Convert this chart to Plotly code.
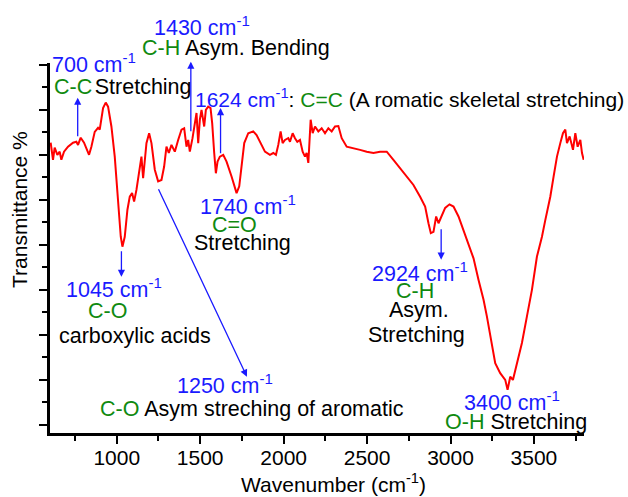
import plotly.graph_objects as go

# FTIR spectrum: wavenumber (cm^-1) and transmittance (%)
wavenumber = [
    604, 618, 628, 644, 658, 668, 684, 708, 738, 758, 768, 784, 804, 834, 848, 868,
    888, 898, 918, 934, 948, 968, 988, 1008, 1024, 1034, 1048, 1064, 1078, 1092,
    1104, 1118, 1134, 1148, 1158, 1168, 1178, 1194, 1208, 1228, 1248, 1268, 1284,
    1298, 1312, 1328, 1348, 1368, 1388, 1404, 1418, 1428, 1438, 1454, 1468, 1478,
    1488, 1498, 1508, 1524, 1534, 1548, 1562, 1572, 1584, 1594, 1604, 1618, 1638,
    1658, 1688, 1718, 1734, 1748, 1764, 1788, 1818, 1838, 1858, 1888, 1918, 1938,
    1954, 1968, 1982, 1994, 2008, 2028, 2038, 2054, 2068, 2082, 2098, 2114, 2128,
    2138, 2148, 2154, 2162, 2174, 2188, 2208, 2228, 2248, 2268, 2288, 2308, 2328,
    2348, 2378, 2418, 2458, 2498, 2538, 2578, 2618, 2658, 2698, 2738, 2778, 2818,
    2848, 2868, 2882, 2898, 2914, 2928, 2942, 2968, 2994, 3018, 3048, 3078, 3108,
    3138, 3168, 3198, 3218, 3238, 3268, 3298, 3328, 3342, 3358, 3374, 3398, 3428,
    3458, 3488, 3518, 3548, 3568, 3598, 3618, 3638, 3658, 3674, 3688, 3698, 3714,
    3734, 3748, 3762, 3778, 3788, 3798,
]
transmittance = [
    72.7, 68.9, 71.6, 70.0, 70.7, 68.9, 70.7, 71.8, 72.7, 72.9, 72.2, 73.8, 72.7, 70.0, 71.8, 75.1,
    76.0, 75.6, 80.4, 81.6, 80.7, 76.3, 69.6, 60.7, 51.8, 49.6, 51.8, 57.8, 60.7, 61.5,
    59.6, 62.2, 65.9, 69.6, 64.8, 69.6, 72.6, 74.8, 72.6, 66.7, 64.1, 64.4, 67.4,
    71.8, 70.4, 72.2, 70.7, 73.3, 75.6, 75.9, 71.8, 73.3, 70.7, 73.7, 77.0, 79.3,
    72.6, 77.8, 80.0, 76.3, 80.0, 80.7, 80.4, 77.0, 70.4, 65.9, 68.5, 69.6, 70.0,
    68.5, 65.2, 61.5, 63.0, 68.2, 72.6, 74.8, 75.2, 74.4, 72.9, 70.7, 70.0, 70.4,
    70.0, 72.2, 75.2, 72.6, 73.3, 73.7, 72.9, 74.8, 73.7, 72.9, 73.3, 70.7, 69.6,
    70.4, 68.2, 73.3, 77.8, 74.8, 76.3, 75.2, 75.9, 74.8, 75.9, 75.2, 76.3, 76.4,
    73.7, 71.8, 71.5, 71.1, 70.7, 70.4, 70.7, 70.7, 68.9, 67.0, 65.2, 63.3, 60.7,
    58.5, 54.8, 52.6, 52.9, 56.3, 54.8, 55.9, 58.2, 59.0, 58.5, 56.3, 53.3, 50.4,
    47.0, 42.2, 37.8, 34.1, 29.6, 23.7, 21.5, 20.0, 17.8, 20.7, 20.0, 23.7, 28.2,
    34.1, 40.0, 47.4, 51.8, 55.5, 60.7, 65.2, 69.6, 72.6, 74.8, 75.6, 72.6, 74.1,
    71.1, 74.8, 71.8, 73.3, 70.4, 68.9,
]

x_ticks = [1000, 1500, 2000, 2500, 3000, 3500]
X_RANGE = [600, 3800]
Y_RANGE = [8.2, 90.4]

BLUE = "#1a1aff"
GREEN = "#108a10"
BLACK = "#000000"
FONT = "Liberation Sans, Arial, sans-serif"
ANN_SIZE = 21.5


def to_paper(x, y):
    """Convert data coordinates to paper fractions (labels may sit above the plot)."""
    px = (x - X_RANGE[0]) / (X_RANGE[1] - X_RANGE[0])
    py = (y - Y_RANGE[0]) / (Y_RANGE[1] - Y_RANGE[0])
    return px, py


fig = go.Figure()
fig.add_trace(go.Scatter(
    x=wavenumber, y=transmittance, mode="lines",
    line=dict(color="#ff0000", width=2),
    showlegend=False, hoverinfo="skip",
))

CM = "cm<sup>-1</sup>"


def green(s):
    return f"<span style='color:{GREEN}'>{s}</span>"


# text labels: (x, y, text, colour, xanchor, size)
labels = [
    (1510, 98.6, f"1430 {CM}", BLUE, "center", ANN_SIZE),
    (1714, 93.8, f"{green('C-H')} Asym. Bending", BLACK, "center", ANN_SIZE),
    (862, 90.5, f"700 {CM}", BLUE, "center", ANN_SIZE),
    (610, 85.1, f"{green('C-C')}<span style='font-size:9px'> </span>Stretching", BLACK, "left", ANN_SIZE),
    (1456, 82.6, f"<span style='color:{BLUE}'>1624 {CM}</span>: {green('C=C')} (A romatic skeletal stretching)", BLACK, "left", 21),
    (1786, 58.9, f"1740 {CM}", BLUE, "center", ANN_SIZE),
    (1708, 54.4, "C=O", GREEN, "center", ANN_SIZE),
    (1756, 50.4, "Stretching", BLACK, "center", ANN_SIZE),
    (982, 40.4, f"1045 {CM}", BLUE, "center", ANN_SIZE),
    (946, 35.3, "C-O", GREEN, "center", ANN_SIZE),
    (1108, 29.8, "carboxylic acids", BLACK, "center", ANN_SIZE),
    (1648, 19.1, f"1250 {CM}", BLUE, "center", ANN_SIZE),
    (886, 13.5, f"{green('C-O')} Asym streching of aromatic", BLACK, "left", ANN_SIZE),
    (2818, 44.0, f"2924 {CM}", BLUE, "center", ANN_SIZE),
    (2788, 39.8, "C-H", GREEN, "center", ANN_SIZE),
    (2812, 35.6, "Asym.", BLACK, "center", ANN_SIZE),
    (2794, 30.0, "Stretching", BLACK, "center", ANN_SIZE),
    (3370, 15.3, f"3400 {CM}", BLUE, "center", ANN_SIZE),
    (3394, 10.7, f"{green('O-H')} Stretching", BLACK, "center", ANN_SIZE),
]

annotations = []
for x, y, text, color, anchor, size in labels:
    px, py = to_paper(x, y)
    annotations.append(dict(
        x=px, y=py, xref="paper", yref="paper", text=text, showarrow=False,
        xanchor=anchor, yanchor="middle",
        font=dict(family=FONT, size=size, color=color),
    ))

# arrows: (head x, head y, tail x, tail y)
arrows = [
    (766, 82.7, 766, 73.8),
    (1444, 90.7, 1444, 74.9),
    (1622, 80.4, 1622, 70.0),
    (1028, 42.9, 1028, 48.9),
    (1780, 20.7, 1246, 62.7),
    (2944, 46.7, 2944, 53.8),
]
for hx, hy, tx, ty in arrows:
    annotations.append(dict(
        x=hx, y=hy, ax=tx, ay=ty, xref="x", yref="y", axref="x", ayref="y",
        text="", showarrow=True, arrowhead=2, arrowsize=1.1, arrowwidth=1.3,
        arrowcolor=BLUE, standoff=0, startstandoff=0,
    ))

# axis titles
annotations.append(dict(
    x=-0.056, y=0.603, xref="paper", yref="paper", text="Transmittance %",
    textangle=-90, showarrow=False, xanchor="center", yanchor="middle",
    font=dict(family=FONT, size=21, color=BLACK),
))
annotations.append(dict(
    x=0.53, y=-0.136, xref="paper", yref="paper", text="Wavenumber (cm<sup>-1</sup>)",
    showarrow=False, xanchor="center", yanchor="middle",
    font=dict(family=FONT, size=21, color=BLACK),
))

fig.update_layout(
    width=628, height=497,
    margin=dict(l=50, r=44, t=63, b=64),
    paper_bgcolor="white", plot_bgcolor="white",
    font=dict(family=FONT, size=21, color=BLACK),
    annotations=annotations,
    xaxis=dict(
        range=X_RANGE, tickvals=x_ticks, ticks="outside", ticklen=8,
        tickwidth=2, tickcolor=BLACK, showline=True, linecolor=BLACK,
        linewidth=2.5, showgrid=False, zeroline=False, ticklabelstandoff=-4,
        tickfont=dict(family=FONT, size=21, color=BLACK),
        minor=dict(ticks="outside", ticklen=5, tickwidth=2, tickcolor=BLACK,
                   tick0=750, dtick=500, showgrid=False),
    ),
    yaxis=dict(
        range=Y_RANGE, tick0=0, dtick=10, ticks="outside", ticklen=8,
        tickwidth=2, tickcolor=BLACK, showline=True, linecolor=BLACK,
        linewidth=2.5, showgrid=False, zeroline=False, showticklabels=False,
        minor=dict(ticks="outside", ticklen=5, tickwidth=2, tickcolor=BLACK,
                   dtick=5, showgrid=False),
    ),
)

fig.write_html("out.html")
